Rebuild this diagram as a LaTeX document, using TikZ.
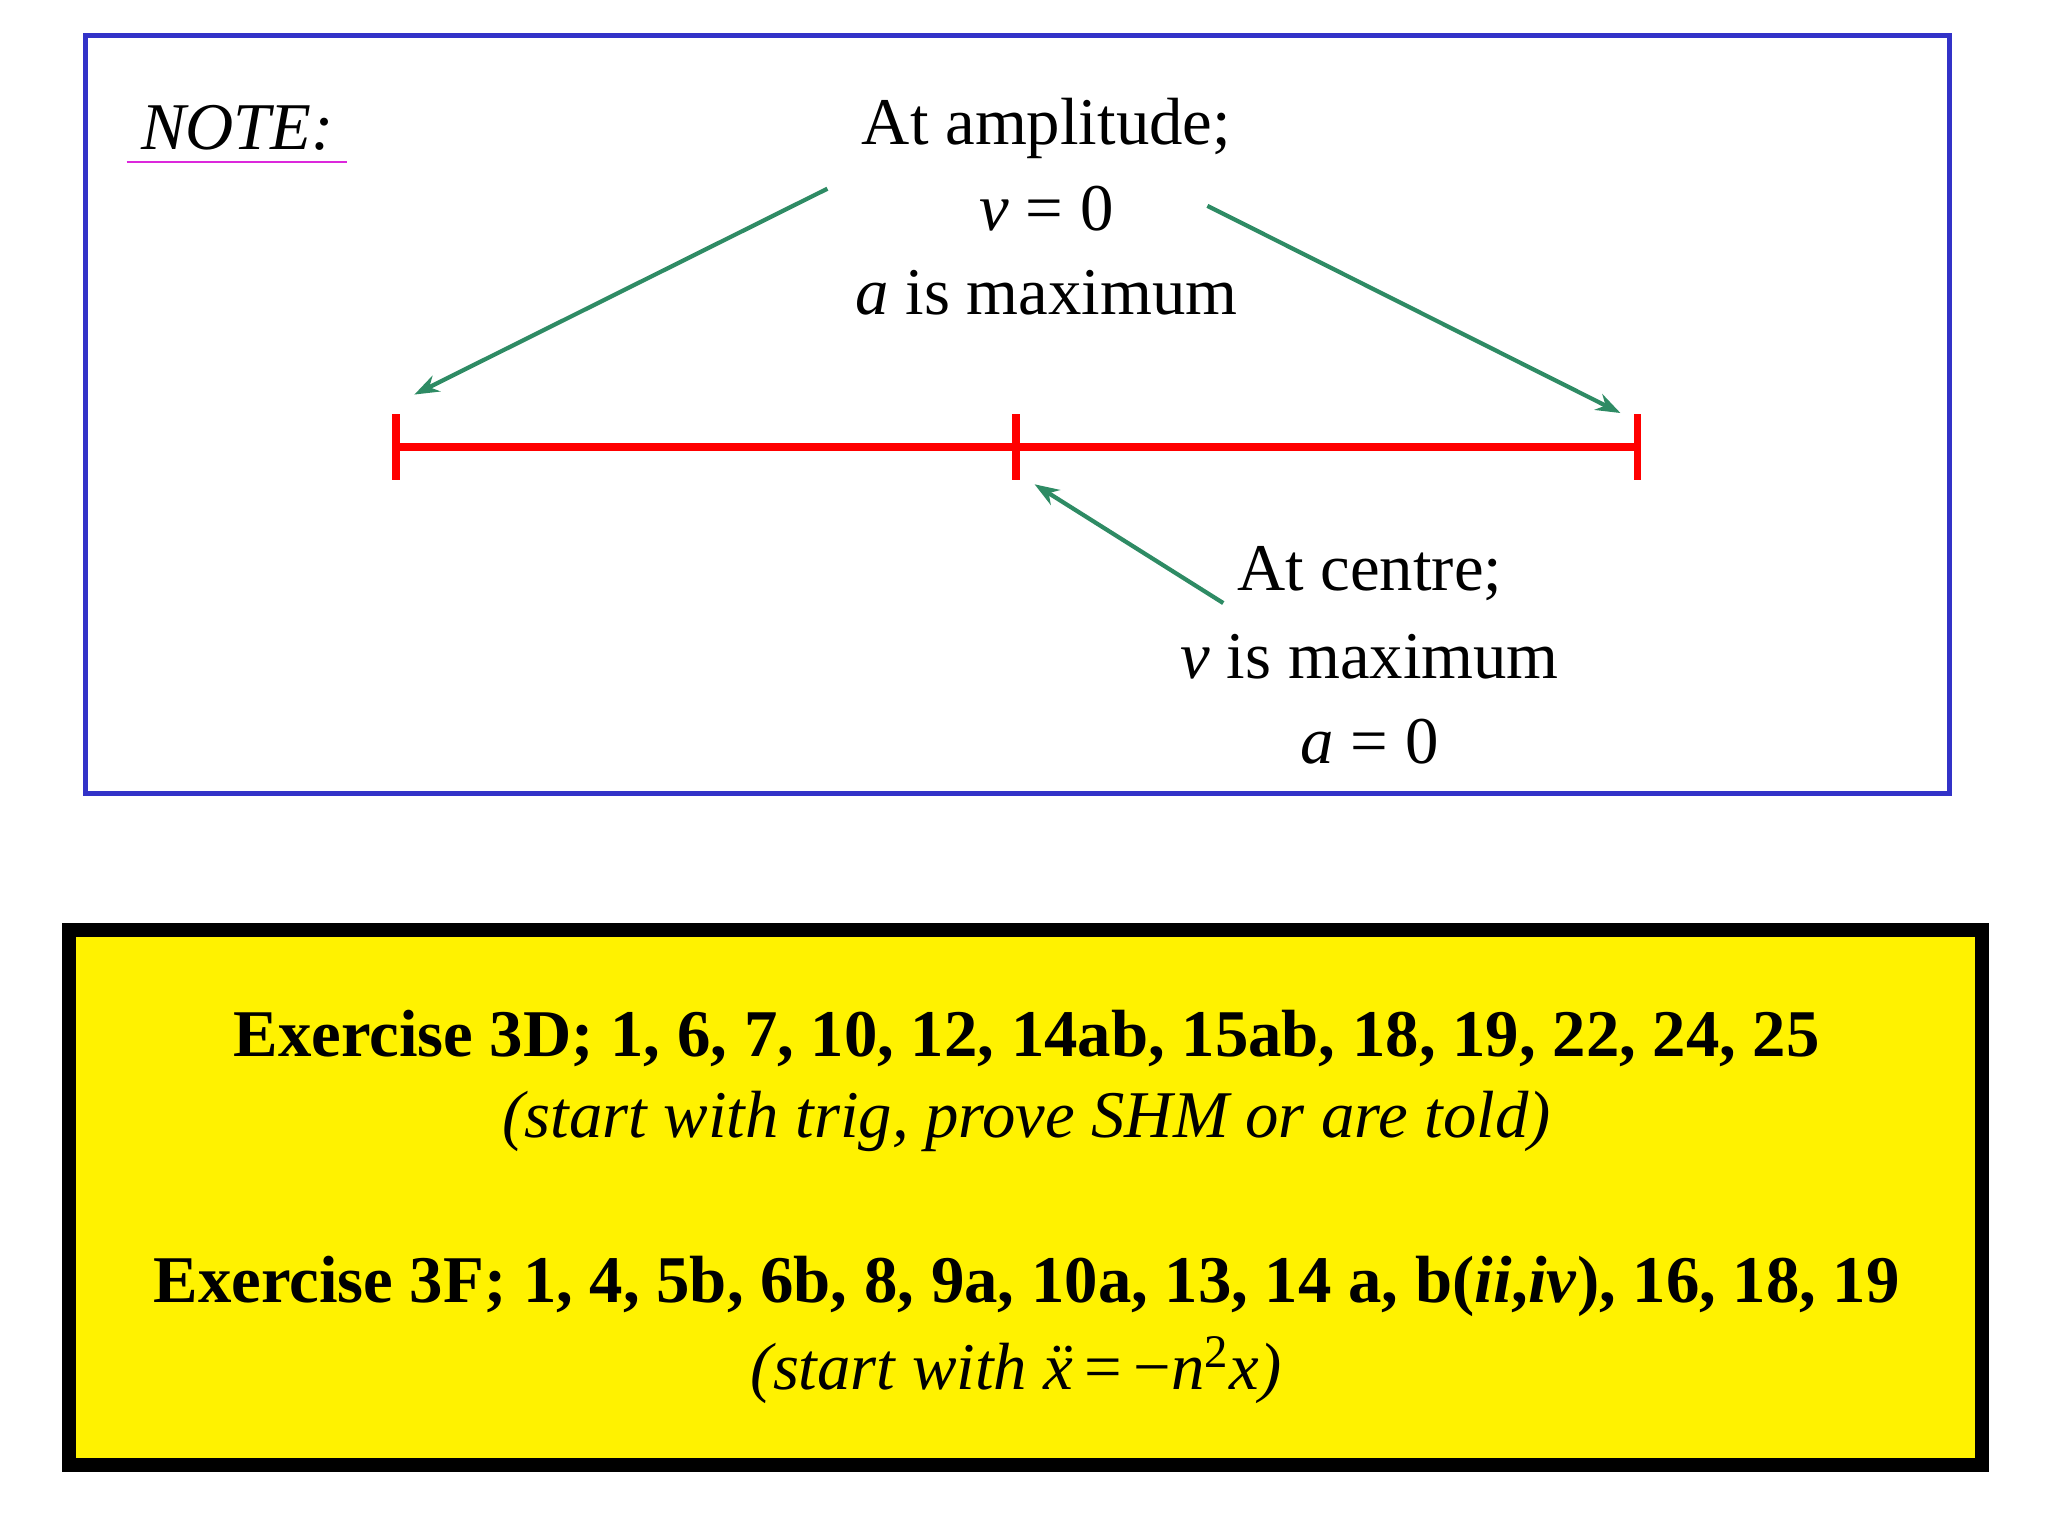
\documentclass[tikz,border=0pt]{standalone}
\usepackage{fontspec}
\setmainfont{Liberation Serif}
\usetikzlibrary{arrows.meta}
\definecolor{boxblue}{RGB}{50,50,200}
\definecolor{arrgreen}{RGB}{46,139,100}
\definecolor{mag}{RGB}{220,40,220}
\tikzset{
  txt/.style={font=\fontsize{19}{22}\selectfont, inner sep=0pt, align=center},
  ex/.style={font=\fontsize{19}{22}\selectfont, inner sep=0pt, align=center},
  garrow/.style={draw=arrgreen, line width=1.2pt, -{Stealth[length=7pt,width=5pt]}},
  redl/.style={draw=red, line width=2.2pt}
}
\begin{document}
\begin{tikzpicture}[x=0.013196cm,y=-0.013196cm]
\useasboundingbox (0,0) rectangle (1552,1164);
\draw[boxblue, line width=1.4pt] (65,27) rectangle (1477,601);
\node[txt, anchor=base] (note) at (180,113) {\itshape NOTE:};
\draw[mag, line width=0.6pt] (96,123) -- (263,123);
\node[txt] (amp1) at (793,97) {At amplitude;};
\node[txt] (amp2) at (793,158) {\itshape v\upshape\ = 0};
\node[txt] (amp3) at (793,222) {\itshape a\upshape\ is maximum};
\node[txt] (cen1) at (1038,435) {At centre;};
\node[txt] (cen2) at (1038,498) {\itshape v\upshape\ is maximum};
\node[txt] (cen3) at (1038,562) {\itshape a\upshape\ = 0};
\coordinate (a1s) at (627,143); \coordinate (a1e) at (314,299);
\coordinate (a2s) at (915,156); \coordinate (a2e) at (1228,313);
\coordinate (a3s) at (927,457); \coordinate (a3e) at (784,367);
\draw[garrow] (a1s) -- (a1e);
\draw[garrow] (a2s) -- (a2e);
\draw[garrow] (a3s) -- (a3e);
\coordinate (L) at (300,339); \coordinate (M) at (770,339); \coordinate (R) at (1241,339);
\draw[redl] (L) -- (R);
\draw[redl] (300,314) -- (300,364);
\draw[redl] (770,314) -- (770,364);
\draw[redl] (1241,314) -- (1241,364);
\draw[fill=yellow, draw=black, line width=4pt] (52,705) rectangle (1502,1110);
\node[ex] (e1) at (778,787) {\bfseries Exercise 3D; 1, 6, 7, 10, 12, 14ab, 15ab, 18, 19, 22, 24, 25};
\node[ex] (e2) at (778,850) {\itshape (start with trig, prove SHM or are told)};
\node[ex] (e3) at (778,975) {\bfseries Exercise 3F; 1, 4, 5b, 6b, 8, 9a, 10a, 13, 14 a, b(\textit{ii},\textit{iv}), 16, 18, 19};
\node[ex] (e4) at (770,1038) {\itshape (start with \"{x}\,\upshape=\,\textminus\itshape n\textsuperscript{\upshape 2}x)};
\end{tikzpicture}
\end{document}
